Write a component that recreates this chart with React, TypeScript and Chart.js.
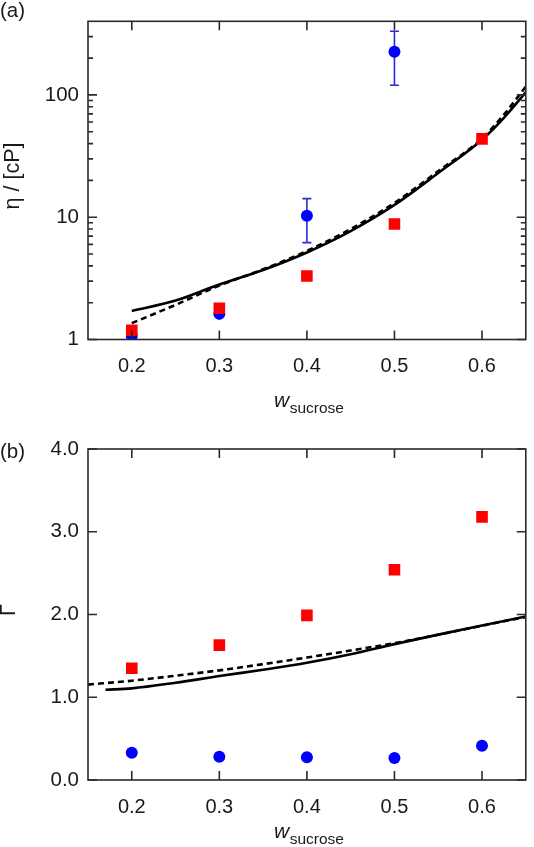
import React, { useEffect, useRef } from "react";
import { Chart, registerables } from "chart.js";
Chart.register(...registerables);

// ---------- data ----------
const xTicks = [0.2, 0.3, 0.4, 0.5, 0.6];
const wExp = [0.2, 0.3, 0.4, 0.5, 0.6];

// panel (a): viscosity (cP)
const etaRed = [1.19, 1.8, 3.31, 8.8, 43.7];
const wBlueA = [0.2, 0.3, 0.4, 0.5];
const etaBlue = [1.07, 1.62, 10.3, 225];
const etaBlueLow = [1.07, 1.62, 6.2, 120];
const etaBlueHigh = [1.07, 1.62, 14.2, 332];
const wCurveA = [0.2, 0.25, 0.3, 0.35, 0.4, 0.45, 0.5, 0.55, 0.6, 0.625, 0.65];
const etaSolid = [1.71, 2.08, 2.82, 3.7, 5.15, 7.7, 12.6, 23, 43, 65, 105];
const etaDashed = [1.36, 1.92, 2.76, 3.75, 5.3, 8.0, 13.1, 23.8, 44, 69, 117];
const yMajorA = [1, 10, 100];
const yMinorA = [2, 3, 4, 5, 6, 7, 8, 9, 20, 30, 40, 50, 60, 70, 80, 90, 200, 300];

// panel (b): Gamma
const gammaRed = [1.35, 1.63, 1.99, 2.54, 3.18];
const gammaBlue = [0.33, 0.28, 0.275, 0.265, 0.415];
const wSolidB = [0.17, 0.2, 0.25, 0.3, 0.35, 0.4, 0.45, 0.5, 0.55, 0.6, 0.65];
const gammaSolid = [1.09, 1.107, 1.175, 1.256, 1.333, 1.416, 1.519, 1.642, 1.757, 1.868, 1.976];
const wDashB = [0.15, 0.2, 0.25, 0.3, 0.35, 0.4, 0.45, 0.5, 0.55, 0.6, 0.65];
const gammaDashed = [1.153, 1.2, 1.26, 1.325, 1.4, 1.48, 1.565, 1.654, 1.755, 1.865, 1.97];
const yMajorB = [0, 1, 2, 3, 4];

// ---------- styling ----------
const FONT = "'Liberation Sans', Arial, Helvetica, sans-serif";
const TEXT = "#1a1a1a";
const FRAME = "#2a2a2a";
const RED = "#ff0000";
const BLUE = "#0000ff";
const ERR = "#2a2ad8";

const pts = (xs: number[], ys: number[]) => xs.map((x, i) => ({ x, y: ys[i] }));

type Panel = {
  top: number;
  height: number;
  padTop: number;
  xAxisH: number;
  yType: "logarithmic" | "linear";
  yMin: number;
  yMax: number;
  yMajor: number[];
  yMinor: number[];
  yFmt: (v: number) => string;
  red: { x: number; y: number }[];
  blue: { x: number; y: number }[];
  solid: { x: number; y: number }[];
  dashed: { x: number; y: number }[];
  err?: { x: number; lo: number; hi: number }[];
  tag: string;
  tagY: number;
  yTitle: string;
  yTitleX: number;
  yTitleY: number;
  xTitleY: number;
};

function makePlugin(p: Panel) {
  return {
    id: "decor" + p.tag,
    beforeDatasetsDraw(chart: any) {
      if (!p.err) return;
      const ctx = chart.ctx;
      const xs = chart.scales.x;
      const ys = chart.scales.y;
      ctx.save();
      ctx.strokeStyle = ERR;
      ctx.lineWidth = 1.6;
      p.err.forEach((e) => {
        if (e.hi <= e.lo) return;
        const px = xs.getPixelForValue(e.x);
        const y1 = ys.getPixelForValue(e.lo);
        const y2 = ys.getPixelForValue(e.hi);
        ctx.beginPath();
        ctx.moveTo(px, y1);
        ctx.lineTo(px, y2);
        ctx.moveTo(px - 4.5, y1);
        ctx.lineTo(px + 4.5, y1);
        ctx.moveTo(px - 4.5, y2);
        ctx.lineTo(px + 4.5, y2);
        ctx.stroke();
      });
      ctx.restore();
    },
    afterDatasetsDraw(chart: any) {
      const ctx = chart.ctx;
      const { left, right, top, bottom } = chart.chartArea;
      const xs = chart.scales.x;
      const ys = chart.scales.y;
      ctx.save();
      ctx.strokeStyle = FRAME;
      ctx.lineWidth = 1.6;
      ctx.strokeRect(left, top, right - left, bottom - top);
      ctx.beginPath();
      const major = 9;
      const minor = 5;
      xTicks.forEach((v) => {
        const px = xs.getPixelForValue(v);
        ctx.moveTo(px, bottom);
        ctx.lineTo(px, bottom - major);
        ctx.moveTo(px, top);
        ctx.lineTo(px, top + major);
      });
      const yTick = (v: number, len: number) => {
        const py = ys.getPixelForValue(v);
        ctx.moveTo(left, py);
        ctx.lineTo(left + len, py);
        ctx.moveTo(right, py);
        ctx.lineTo(right - len, py);
      };
      p.yMajor.forEach((v) => yTick(v, major));
      p.yMinor.forEach((v) => yTick(v, minor));
      ctx.stroke();
      ctx.restore();
    },
    afterDraw(chart: any) {
      const ctx = chart.ctx;
      ctx.save();
      ctx.fillStyle = TEXT;
      ctx.textBaseline = "alphabetic";
      ctx.textAlign = "left";
      ctx.font = `20.5px ${FONT}`;
      ctx.fillText(p.tag, 0, p.tagY);
      // y title (rotated)
      ctx.save();
      ctx.translate(p.yTitleX, p.yTitleY);
      ctx.rotate(-Math.PI / 2);
      ctx.textAlign = "center";
      ctx.textBaseline = "middle";
      ctx.font = `21.5px ${FONT}`;
      ctx.fillText(p.yTitle, 0, 0);
      ctx.restore();
      // x title: italic w with subscript "sucrose"
      ctx.font = `italic 21px ${FONT}`;
      const wX = 274;
      ctx.fillText("w", wX, p.xTitleY);
      const wWidth = ctx.measureText("w").width;
      ctx.font = `15.5px ${FONT}`;
      ctx.fillText("sucrose", wX + wWidth + 0.5, p.xTitleY + 6);
      ctx.restore();
    },
  };
}

function PanelChart({ p }: { p: Panel }) {
  const ref = useRef<HTMLCanvasElement | null>(null);
  useEffect(() => {
    if (!ref.current) return;
    const chart = new Chart(ref.current, {
      type: "scatter",
      data: {
        datasets: [
          {
            data: p.red,
            pointStyle: "rect",
            pointRadius: 8.2,
            pointBackgroundColor: RED,
            pointBorderWidth: 0,
            showLine: false,
            order: 0,
          },
          {
            data: p.blue,
            pointStyle: "circle",
            pointRadius: 6,
            pointBackgroundColor: BLUE,
            pointBorderWidth: 0,
            showLine: false,
            order: 1,
          },
          {
            data: p.solid,
            showLine: true,
            pointRadius: 0,
            borderColor: "#000000",
            borderWidth: 2.6,
            cubicInterpolationMode: "monotone",
            fill: false,
            order: 2,
          },
          {
            data: p.dashed,
            showLine: true,
            pointRadius: 0,
            borderColor: "#000000",
            borderWidth: 2.6,
            borderDash: [6, 4],
            cubicInterpolationMode: "monotone",
            fill: false,
            order: 3,
          },
        ] as any,
      },
      options: {
        animation: false,
        responsive: false,
        maintainAspectRatio: false,
        events: [],
        layout: { padding: { top: p.padTop, right: 1, left: 0, bottom: 0 } },
        plugins: { legend: { display: false }, tooltip: { enabled: false }, title: { display: false } },
        scales: {
          x: {
            type: "linear",
            min: 0.15,
            max: 0.65,
            grid: { display: false, drawTicks: false },
            border: { display: false },
            afterBuildTicks: (s: any) => {
              s.ticks = xTicks.map((v) => ({ value: v }));
            },
            afterFit: (s: any) => {
              s.height = p.xAxisH;
            },
            ticks: {
              padding: 15,
              color: TEXT,
              font: { family: FONT, size: 20 },
              maxRotation: 0,
              autoSkip: false,
              callback: (v: any) => Number(v).toFixed(1),
            },
          },
          y: {
            type: p.yType,
            min: p.yMin,
            max: p.yMax,
            grid: { display: false, drawTicks: false },
            border: { display: false },
            afterBuildTicks: (s: any) => {
              s.ticks = p.yMajor.map((v) => ({ value: v }));
            },
            afterFit: (s: any) => {
              s.width = 88;
            },
            ticks: {
              padding: 9,
              color: TEXT,
              font: { family: FONT, size: 20.5 },
              autoSkip: false,
              callback: (v: any) => p.yFmt(Number(v)),
            },
          },
        },
      } as any,
      plugins: [makePlugin(p)],
    });
    return () => chart.destroy();
  }, [p]);
  return (
    <canvas
      ref={ref}
      width={534}
      height={p.height}
      style={{ position: "absolute", left: 0, top: p.top, width: 534, height: p.height, display: "block" }}
    />
  );
}

const panelA: Panel = {
  top: 0,
  height: 424,
  padTop: 8.5,
  xAxisH: 424 - 339.5,
  yType: "logarithmic",
  yMin: 1,
  yMax: 400,
  yMajor: yMajorA,
  yMinor: yMinorA,
  yFmt: (v) => String(v),
  red: pts(wExp, etaRed),
  blue: pts(wBlueA, etaBlue),
  solid: pts(wCurveA, etaSolid),
  dashed: pts(wCurveA, etaDashed),
  err: wBlueA.map((x, i) => ({ x, lo: etaBlueLow[i], hi: etaBlueHigh[i] })),
  tag: "(a)",
  tagY: 17,
  yTitle: "η / [cP]",
  yTitleX: 13,
  yTitleY: 176,
  xTitleY: 407,
};

const panelB: Panel = {
  top: 424,
  height: 423,
  padTop: 25,
  xAxisH: 423 - 356,
  yType: "linear",
  yMin: 0,
  yMax: 4,
  yMajor: yMajorB,
  yMinor: [],
  yFmt: (v) => v.toFixed(1),
  red: pts(wExp, gammaRed),
  blue: pts(wExp, gammaBlue),
  solid: pts(wSolidB, gammaSolid),
  dashed: pts(wDashB, gammaDashed),
  tag: "(b)",
  tagY: 34,
  yTitle: "Γ",
  yTitleX: 9,
  yTitleY: 186,
  xTitleY: 414,
};

export default function App() {
  return (
    <div style={{ position: "absolute", left: 0, top: 0, width: 534, height: 847, background: "#ffffff" }}>
      <PanelChart p={panelA} />
      <PanelChart p={panelB} />
    </div>
  );
}
